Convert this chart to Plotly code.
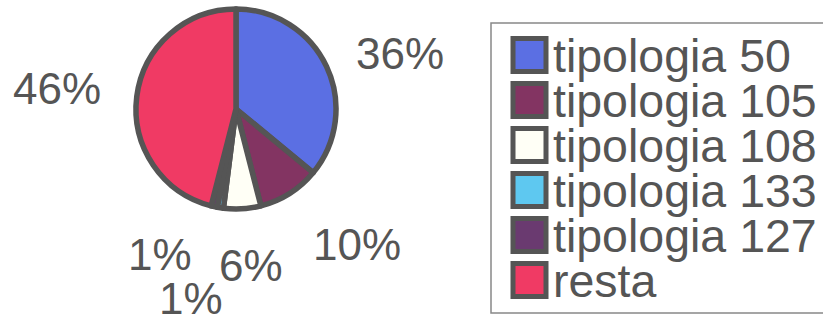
import plotly.graph_objects as go

categories = ["tipologia 50", "tipologia 105", "tipologia 108", "tipologia 133", "tipologia 127", "resta"]
values = [36, 10, 6, 1, 1, 46]
colors = ["#5b6fe3", "#833462", "#fffff6", "#5ec8f0", "#6a3a70", "#f03a64"]

W, H = 823, 320
def px(x): return x / W
def py(y): return 1 - y / H

FONT = "Liberation Sans, Arial, sans-serif"
TXT = "#555555"
EDGE = "#555555"

fig = go.Figure(go.Pie(
    labels=categories, values=values, sort=False, direction="clockwise", rotation=0,
    marker=dict(colors=colors, line=dict(color=EDGE, width=5.5)),
    textinfo="none", hoverinfo="label+percent", showlegend=False,
    domain=dict(x=[px(136), px(336)], y=[py(209), py(9)]),
))

# percentage labels (positions of each slice's label)
label_pos = {
    "tipologia 50": (400, 53),
    "tipologia 105": (357, 244),
    "tipologia 108": (251, 265),
    "tipologia 133": (191, 298),
    "tipologia 127": (160, 254),
    "resta": (57, 88),
}
total = sum(values)
annotations = []
for cat, v in zip(categories, values):
    x, y = label_pos[cat]
    annotations.append(dict(
        x=px(x), y=py(y), xref="paper", yref="paper", xanchor="center", yanchor="middle",
        text=f"{round(100 * v / total)}%", showarrow=False,
        font=dict(family=FONT, size=44, color=TXT),
    ))

# custom legend
shapes = [dict(type="rect", xref="paper", yref="paper",
               x0=px(491), x1=px(835), y0=py(313), y1=py(23),
               line=dict(color="#888888", width=1.5), fillcolor="rgba(0,0,0,0)")]
row0, step = 55, 45
for i, (cat, col) in enumerate(zip(categories, colors)):
    cy = row0 + i * step
    shapes.append(dict(type="rect", xref="paper", yref="paper",
                       x0=px(513), x1=px(546), y0=py(cy + 16.5), y1=py(cy - 16.5),
                       line=dict(color=EDGE, width=5), fillcolor=col))
    annotations.append(dict(
        x=px(551), y=py(cy + 1), xref="paper", yref="paper", xanchor="left", yanchor="middle",
        text=cat, showarrow=False, font=dict(family=FONT, size=46.5, color=TXT),
    ))

fig.update_layout(
    width=W, height=H, margin=dict(l=0, r=0, t=0, b=0),
    paper_bgcolor="white", plot_bgcolor="white",
    annotations=annotations, shapes=shapes, showlegend=False,
)
fig.write_html(
    "out.html",
    config={"displayModeBar": False},
    post_script="document.body.style.margin='0';document.body.style.overflow='hidden';",
)
